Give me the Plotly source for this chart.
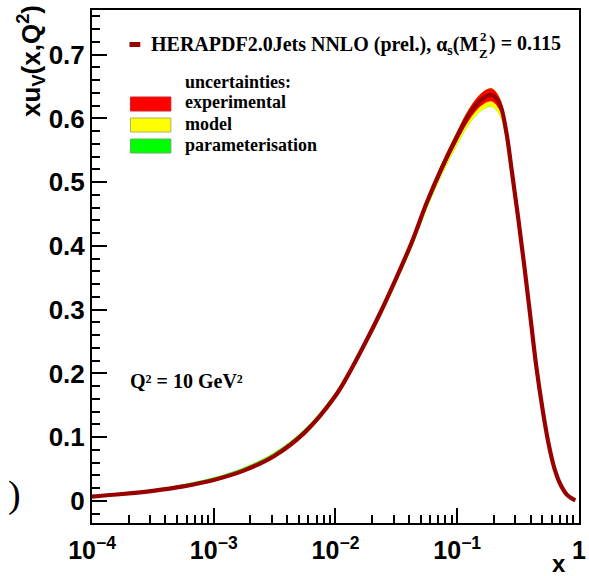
import numpy as np
import plotly.graph_objects as go

# xu_v(x, Q^2) at Q^2 = 10 GeV^2, central values and uncertainty components
log10_x = [-4.0, -3.75, -3.5, -3.25, -3.0, -2.75, -2.5, -2.25, -2.0, -1.875, -1.75,
           -1.625, -1.5, -1.375, -1.25, -1.125, -1.0, -0.9, -0.8, -0.72, -0.65, -0.6,
           -0.55, -0.5, -0.45, -0.4, -0.35, -0.3, -0.25, -0.2, -0.15, -0.1, -0.05, -0.03]
xuv = [0.007, 0.011, 0.016, 0.023, 0.033, 0.048, 0.071, 0.108, 0.165, 0.205, 0.25,
       0.298, 0.35, 0.405, 0.468, 0.523, 0.572, 0.607, 0.63, 0.637, 0.622, 0.582,
       0.515, 0.445, 0.37, 0.29, 0.21, 0.145, 0.09, 0.05, 0.025, 0.01, 0.003, 0.001]
exp_unc = [0.0012, 0.0013, 0.0015, 0.0017, 0.002, 0.0024, 0.0028, 0.0032, 0.0036, 0.004, 0.0044,
           0.0048, 0.0052, 0.0058, 0.0065, 0.0072, 0.008, 0.009, 0.0098, 0.0102, 0.0098, 0.0088,
           0.0075, 0.0062, 0.0052, 0.0045, 0.0038, 0.003, 0.0024, 0.0018, 0.0012, 0.0008, 0.0004, 0.0002]
model_up = [0.001, 0.0012, 0.0015, 0.002, 0.0025, 0.003, 0.0032, 0.0032, 0.003, 0.0028, 0.0025,
            0.002, 0.0015, 0.001, 0.001, 0.001, 0.001, 0.001, 0.001, 0.001, 0.001, 0.001,
            0.001, 0.001, 0.001, 0.001, 0.001, 0.001, 0.001, 0.0008, 0.0005, 0.0003, 0.0002, 0.0001]
model_dn = [0.0005, 0.0005, 0.0005, 0.0005, 0.0005, 0.0008, 0.001, 0.0015, 0.002, 0.0025, 0.003,
            0.004, 0.005, 0.006, 0.0075, 0.009, 0.0105, 0.0125, 0.0145, 0.0155, 0.0145, 0.012,
            0.0095, 0.007, 0.005, 0.004, 0.003, 0.002, 0.0015, 0.001, 0.0008, 0.0005, 0.0003, 0.0002]
par_up = [0.001, 0.0012, 0.0015, 0.002, 0.0025, 0.003, 0.0032, 0.0032, 0.003, 0.0028, 0.0025,
          0.002, 0.0018, 0.0015, 0.0015, 0.0015, 0.0015, 0.0015, 0.0015, 0.0015, 0.0015, 0.0015,
          0.0012, 0.001, 0.001, 0.001, 0.001, 0.001, 0.001, 0.0008, 0.0005, 0.0003, 0.0002, 0.0001]
par_dn = [0.0005, 0.0005, 0.0005, 0.0005, 0.0005, 0.0005, 0.0008, 0.001, 0.0015, 0.002, 0.0025,
          0.003, 0.003, 0.003, 0.003, 0.003, 0.003, 0.003, 0.003, 0.003, 0.003, 0.0025,
          0.002, 0.0015, 0.001, 0.001, 0.001, 0.001, 0.001, 0.0008, 0.0005, 0.0003, 0.0002, 0.0001]

x_major = [1e-4, 1e-3, 1e-2, 1e-1, 1]
x_major_text = ["10<sup>\u22124</sup>", "10<sup>\u22123</sup>", "10<sup>\u22122</sup>",
                "10<sup>\u22121</sup>", "1"]

x = 10 ** np.array(log10_x)
c = np.array(xuv)
e = np.array(exp_unc)
mu, md = np.array(model_up), np.array(model_dn)
pu, pd_ = np.array(par_up), np.array(par_dn)

red_hi, red_lo = c + e, c - e
yel_hi, yel_lo = c + np.sqrt(e**2 + mu**2), c - np.sqrt(e**2 + md**2)
grn_hi, grn_lo = c + np.sqrt(e**2 + mu**2 + pu**2), c - np.sqrt(e**2 + md**2 + pd_**2)

DARK_RED = "#990000"
SANS = "Liberation Sans"
SERIF = "Liberation Serif"

fig = go.Figure()


def band(hi, lo, color):
    fig.add_trace(go.Scatter(
        x=np.concatenate([x, x[::-1]]), y=np.concatenate([hi, lo[::-1]]),
        mode="lines", fill="toself", fillcolor=color, line=dict(width=0, shape="spline"),
        hoverinfo="skip", showlegend=False))


band(grn_hi, grn_lo, "#00ff00")
band(yel_hi, yel_lo, "#ffff00")
band(red_hi, red_lo, "#ff0000")
fig.add_trace(go.Scatter(x=x, y=c, mode="lines",
                         line=dict(color=DARK_RED, width=4.2, shape="spline"),
                         showlegend=False))

L, R, T, B = 92, 586, 10, 523


def px(X):
    return (X - L) / (R - L)


def py(Y):
    return (B - Y) / (B - T)


minor_x = [m * 10.0 ** k for k in range(-4, 0) for m in range(2, 10)]

fig.update_xaxes(
    type="log", range=[-4, 0.0002], showline=True, linecolor="black", linewidth=2, mirror=True,
    ticks="inside", ticklen=15, tickwidth=1.5, tickcolor="black",
    tickvals=x_major, ticktext=x_major_text, ticklabelstandoff=4, ticklabeloverflow="allow",
    tickfont=dict(family=SANS, size=25, color="black", weight="bold"),
    minor=dict(tickvals=minor_x, ticks="inside", ticklen=8, tickwidth=1.5, tickcolor="black",
               showgrid=False),
    showgrid=False, zeroline=False)
fig.update_yaxes(
    range=[-0.0345, 0.770], showline=True, linecolor="black", linewidth=2, mirror=True,
    ticks="inside", ticklen=15, tickwidth=1.5, tickcolor="black", tick0=0, dtick=0.1,
    tickfont=dict(family=SANS, size=26, color="black", weight="bold"),
    minor=dict(dtick=0.02, ticks="inside", ticklen=8, tickwidth=1.5, tickcolor="black",
               showgrid=False),
    showgrid=False, zeroline=False)

ann = []


def text(t, X, Y, size, family=SERIF, xanchor="left", yanchor="middle", angle=0):
    ann.append(dict(text=t, x=px(X), y=py(Y), xref="paper", yref="paper",
                    xanchor=xanchor, yanchor=yanchor, showarrow=False, textangle=angle,
                    font=dict(family=family, size=size, color="black", weight="bold")))


# axis titles
text("xu<sub>V</sub>(x,Q<sup>2</sup>)", 30, 3, 26, family=SANS, xanchor="center",
     yanchor="top", angle=-90)
text("x", 566, 563, 24, family=SANS, xanchor="center")

# legend header
text("HERAPDF2.0Jets NNLO (prel.), \u03b1<sub>s</sub>(M", 486, 45, 20, xanchor="right")
text("Z", 489.5, 53, 13, xanchor="center")
text("2", 489.5, 36, 13, xanchor="center")
text(") = 0.115", 493, 43, 20)

text("uncertainties:", 184, 82, 18)
text("experimental", 184, 102, 18)
text("model", 184, 124, 18)
text("parameterisation", 184, 145, 18)
text("Q\u00b2 = 10 GeV\u00b2", 129, 381, 20)

ann.append(dict(text=")", x=px(13), y=py(494), xref="paper", yref="paper",
                xanchor="center", yanchor="middle", showarrow=False,
                font=dict(family=SERIF, size=38, color="black")))

shapes = [
    dict(type="rect", xref="paper", yref="paper", x0=px(130), x1=px(141), y0=py(47), y1=py(42),
         fillcolor=DARK_RED, line=dict(width=0)),
    dict(type="rect", xref="paper", yref="paper", x0=px(131), x1=px(172), y0=py(111), y1=py(97),
         fillcolor="#ff0000", line=dict(width=1, color="#cc2222")),
    dict(type="rect", xref="paper", yref="paper", x0=px(131), x1=px(172), y0=py(132), y1=py(118),
         fillcolor="#ffff00", line=dict(width=1, color="#b0b060")),
    dict(type="rect", xref="paper", yref="paper", x0=px(131), x1=px(172), y0=py(153), y1=py(139),
         fillcolor="#00ff00", line=dict(width=1, color="#60b060")),
]

fig.update_layout(
    width=589, height=576, margin=dict(l=L, r=589 - R, t=T, b=576 - B),
    paper_bgcolor="white", plot_bgcolor="white", showlegend=False,
    annotations=ann, shapes=shapes)

fig.write_html("out.html")
